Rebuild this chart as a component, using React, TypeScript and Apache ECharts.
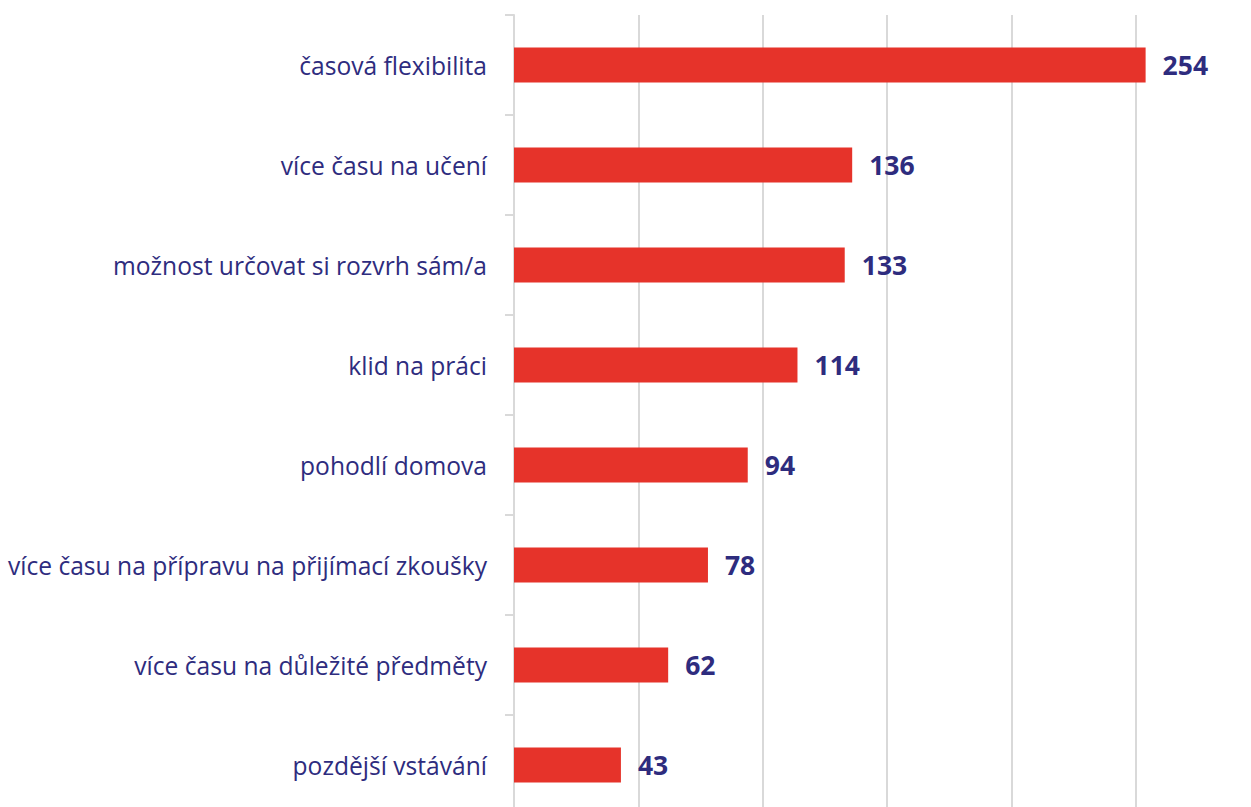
import React, { useEffect, useRef } from "react";
import * as echarts from "echarts";

const categories = [
  "časová flexibilita",
  "více času na učení",
  "možnost určovat si rozvrh sám/a",
  "klid na práci",
  "pohodlí domova",
  "více času na přípravu na přijímací zkoušky",
  "více času na důležité předměty",
  "pozdější vstávání",
];
const values = [254, 136, 133, 114, 94, 78, 62, 43];

const LABEL = "#2E2C7E";
const BAR = "#E6332A";
const GRID = "#D9D9D9";

export default function App() {
  const ref = useRef<HTMLDivElement>(null);
  useEffect(() => {
    const chart = echarts.init(ref.current!, null, { renderer: "svg" });
    chart.setOption({
      animation: false,
      backgroundColor: "#ffffff",
      grid: {
        left: 514,
        top: 15,
        width: 746,
        height: 800,
        containLabel: false,
        outerBoundsMode: "none",
      },
      xAxis: {
        type: "value",
        min: 0,
        max: 300,
        interval: 50,
        axisLabel: { show: false },
        axisLine: { show: false },
        axisTick: { show: false },
        splitLine: { show: true, lineStyle: { color: GRID, width: 2 } },
      },
      yAxis: {
        type: "category",
        data: categories,
        inverse: true,
        axisLine: { show: true, lineStyle: { color: GRID, width: 2 } },
        axisTick: { show: true, length: 9, lineStyle: { color: GRID, width: 2 } },
        axisLabel: {
          margin: 27,
          color: LABEL,
          fontFamily: "Open Sans",
          fontSize: 24.6,
        },
        splitLine: { show: false },
      },
      series: [
        {
          type: "bar",
          data: values,
          barWidth: 35,
          itemStyle: { color: BAR },
          label: {
            show: true,
            position: "right",
            distance: 17,
            color: LABEL,
            fontFamily: "Open Sans",
            fontWeight: "bold",
            fontSize: 26.5,
          },
        },
      ],
    });
    return () => chart.dispose();
  }, []);
  return (
    <div
      ref={ref}
      style={{ position: "fixed", left: 0, top: 0, width: 1251, height: 807 }}
    />
  );
}
